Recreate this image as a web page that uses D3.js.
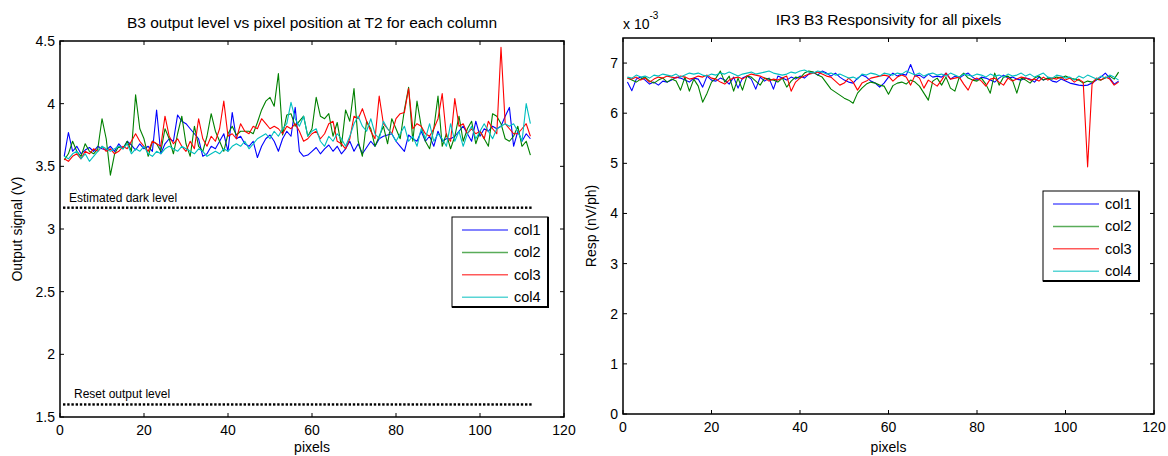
<!DOCTYPE html>
<html lang="en">
<head>
    <meta charset="UTF-8">
    <title>B3 output level / IR3 B3 Responsivity</title>
    <script src="https://d3js.org/d3.v7.min.js"></script>
    <style>
        body { margin: 0; background: #fff; }
        text { font-family: 'Liberation Sans', Arial, sans-serif; fill: #000; }
    </style>
</head>
<body>
<script>

    const width  = 1168;
    const height = 456;

    const seriesNames  = ['col1', 'col2', 'col3', 'col4'];
    const seriesColors = ['#0000ff', '#008000', '#ff0000', '#00bfbf'];

    const xTicks     = [0, 20, 40, 60, 80, 100, 120];
    const leftYTicks = [1.5, 2, 2.5, 3, 3.5, 4, 4.5];
    const rightYTicks = [0, 1, 2, 3, 4, 5, 6, 7];

    const darkLevel  = 3.17;
    const resetLevel = 1.6;

    // output signal (V), pixel 1..112
    const outCol1 = [
        3.58,3.77,3.62,3.66,3.60,3.63,3.65,3.62,3.66,3.64,
        3.63,3.66,3.62,3.68,3.64,3.70,3.67,3.63,3.68,3.64,
        3.66,3.62,3.95,3.60,3.68,3.72,3.70,3.91,3.86,3.84,
        3.80,3.76,3.72,3.58,3.60,3.66,3.64,3.70,3.76,3.62,
        3.93,3.72,3.74,3.68,3.66,3.70,3.57,3.66,3.72,3.75,
        3.70,3.62,3.72,3.78,3.74,3.97,3.62,3.58,3.59,3.62,
        3.65,3.60,3.64,3.67,3.62,3.66,3.60,3.64,3.70,3.62,
        3.68,3.60,3.65,3.70,3.66,3.72,3.74,3.75,3.76,3.70,
        3.66,3.62,3.75,3.72,3.70,3.78,3.70,3.74,3.66,3.78,
        3.70,3.72,3.72,3.74,3.78,3.82,3.76,3.70,3.86,3.74,
        3.80,3.78,3.82,3.80,3.82,3.90,3.97,3.66,3.78,3.70,3.76,3.72
    ];
    const outCol2 = [
        3.55,3.60,3.70,3.62,3.58,3.68,3.62,3.60,3.64,3.88,
        3.72,3.43,3.60,3.66,3.64,3.70,3.62,4.07,3.80,3.72,
        3.58,3.70,3.68,3.62,3.80,3.72,3.60,3.76,3.90,3.68,
        3.58,3.82,3.66,3.62,3.74,3.92,3.78,3.70,3.62,3.76,
        3.82,3.75,3.78,3.78,3.78,3.76,3.85,3.95,4.02,4.05,
        3.98,4.24,3.75,3.91,3.92,3.82,3.86,3.90,3.74,3.80,
        4.05,3.90,3.88,3.92,3.74,3.85,3.66,3.95,3.86,4.12,
        3.70,3.58,3.86,3.80,3.66,3.74,3.82,3.68,3.88,3.80,
        3.72,3.95,4.13,3.70,4.02,3.82,3.70,3.64,3.80,4.06,
        3.66,3.76,3.64,3.74,3.90,3.70,3.80,3.86,3.68,3.78,
        3.72,3.66,3.92,3.90,3.84,3.72,3.70,3.74,3.82,3.66,3.70,3.59
    ];
    const outCol3 = [
        3.56,3.54,3.58,3.60,3.56,3.62,3.60,3.64,3.62,3.66,
        3.62,3.64,3.60,3.62,3.66,3.64,3.70,3.76,3.70,3.66,
        3.62,3.70,3.68,3.66,3.90,3.74,3.68,3.72,3.66,3.62,
        3.70,3.64,3.88,3.72,3.66,3.74,3.70,3.80,4.02,3.74,
        3.76,3.72,3.84,3.78,3.76,3.82,3.80,3.88,3.84,3.80,
        3.82,3.80,3.76,3.82,3.80,3.84,3.78,3.70,3.72,3.76,
        3.78,3.72,3.76,3.84,3.86,3.70,3.68,3.64,3.72,3.90,
        3.88,3.96,3.86,3.78,3.72,4.06,3.84,3.80,3.76,3.88,
        3.92,3.93,4.12,3.80,3.84,3.82,3.76,3.74,3.80,3.88,
        4.08,3.74,3.70,4.04,3.82,3.84,3.76,3.80,3.76,3.78,
        3.72,3.86,3.80,3.76,4.45,3.84,3.80,3.76,3.76,3.80,3.84,3.74
    ];
    const outCol4 = [
        3.58,3.56,3.60,3.62,3.56,3.60,3.54,3.58,3.62,3.66,
        3.64,3.62,3.64,3.66,3.64,3.68,3.60,3.64,3.62,3.66,
        3.60,3.58,3.62,3.60,3.64,3.66,3.64,3.62,3.66,3.64,
        3.62,3.60,3.64,3.62,3.58,3.60,3.62,3.60,3.64,3.62,
        3.66,3.68,3.66,3.70,3.64,3.68,3.72,3.74,3.76,3.72,
        3.78,3.74,3.80,3.84,4.01,3.88,3.82,3.90,3.74,3.78,
        3.80,3.70,3.66,3.74,3.70,3.76,3.72,3.66,3.74,3.84,
        3.90,3.82,3.78,3.88,3.76,3.72,3.86,3.80,3.76,3.70,
        3.76,3.82,3.70,3.74,3.66,3.80,3.72,3.84,3.70,3.76,
        3.72,3.66,3.84,3.70,3.78,3.66,3.76,3.82,3.72,3.78,
        3.84,3.78,3.72,3.80,3.82,3.84,3.82,3.84,3.78,3.70,4.00,3.84
    ];

    // responsivity (x 10^-3 nV/ph), pixel 1..112
    const respCol1 = [
        6.62,6.45,6.68,6.72,6.66,6.58,6.62,6.56,6.64,6.62,
        6.66,6.72,6.70,6.66,6.62,6.70,6.68,6.52,6.74,6.66,
        6.64,6.70,6.66,6.58,6.72,6.50,6.70,6.74,6.68,6.48,
        6.72,6.64,6.70,6.48,6.74,6.70,6.66,6.72,6.68,6.74,
        6.70,6.78,6.82,6.76,6.84,6.80,6.74,6.80,6.72,6.66,
        6.62,6.60,6.70,6.76,6.72,6.64,6.60,6.52,6.60,6.72,
        6.80,6.74,6.78,6.76,6.97,6.74,6.76,6.70,6.78,6.72,
        6.74,6.72,6.80,6.68,6.74,6.70,6.76,6.80,6.72,6.66,
        6.72,6.70,6.66,6.62,6.70,6.76,6.70,6.72,6.68,6.66,
        6.70,6.68,6.62,6.72,6.66,6.70,6.64,6.62,6.68,6.64,
        6.60,6.58,6.56,6.55,6.56,6.60,6.66,6.72,6.80,6.70,6.58,6.64
    ];
    const respCol2 = [
        6.70,6.66,6.62,6.68,6.72,6.64,6.60,6.66,6.70,6.62,
        6.68,6.64,6.46,6.72,6.44,6.68,6.54,6.22,6.40,6.62,
        6.70,6.84,6.62,6.74,6.44,6.70,6.46,6.74,6.72,6.64,
        6.56,6.70,6.68,6.66,6.62,6.70,6.52,6.64,6.72,6.70,
        6.80,6.84,6.82,6.76,6.72,6.60,6.48,6.42,6.36,6.30,
        6.26,6.20,6.40,6.50,6.58,6.62,6.60,6.56,6.54,6.38,
        6.55,6.60,6.62,6.58,6.66,6.62,6.54,6.40,6.26,6.64,
        6.70,6.56,6.72,6.50,6.44,6.72,6.80,6.70,6.66,6.64,
        6.70,6.58,6.40,6.80,6.56,6.72,6.74,6.66,6.40,6.70,
        6.66,6.60,6.70,6.74,6.66,6.70,6.68,6.72,6.70,6.74,
        6.70,6.68,6.66,6.60,6.64,6.62,6.68,6.66,6.70,6.74,6.68,6.82
    ];
    const respCol3 = [
        6.70,6.68,6.72,6.66,6.70,6.62,6.68,6.72,6.70,6.74,
        6.72,6.70,6.74,6.72,6.68,6.70,6.74,6.72,6.76,6.70,
        6.68,6.62,6.58,6.66,6.70,6.72,6.68,6.74,6.78,6.76,
        6.74,6.70,6.64,6.68,6.66,6.70,6.74,6.44,6.62,6.70,
        6.74,6.78,6.80,6.82,6.78,6.74,6.72,6.64,6.56,6.60,
        6.70,6.62,6.46,6.60,6.64,6.70,6.72,6.74,6.76,6.74,
        6.64,6.72,6.76,6.72,6.56,6.76,6.70,6.50,6.66,6.60,
        6.54,6.66,6.80,6.68,6.70,6.72,6.58,6.46,6.66,6.70,
        6.64,6.54,6.68,6.70,6.62,6.56,6.70,6.64,6.68,6.72,
        6.70,6.66,6.68,6.64,6.72,6.66,6.70,6.68,6.72,6.66,
        6.70,6.62,6.68,6.62,4.93,6.58,6.70,6.66,6.72,6.68,6.56,6.62
    ];
    const respCol4 = [
        6.72,6.70,6.76,6.72,6.74,6.70,6.76,6.74,6.78,6.76,
        6.74,6.78,6.72,6.76,6.80,6.78,6.80,6.76,6.74,6.78,
        6.76,6.80,6.78,6.82,6.78,6.74,6.78,6.80,6.82,6.78,
        6.80,6.82,6.84,6.80,6.78,6.76,6.78,6.82,6.80,6.84,
        6.86,6.82,6.80,6.84,6.82,6.78,6.80,6.76,6.78,6.74,
        6.70,6.72,6.68,6.78,6.76,6.80,6.78,6.74,6.80,6.78,
        6.76,6.80,6.78,6.84,6.80,6.76,6.80,6.74,6.78,6.80,
        6.76,6.78,6.74,6.80,6.76,6.72,6.78,6.76,6.74,6.78,
        6.76,6.72,6.78,6.74,6.76,6.72,6.78,6.74,6.76,6.80,
        6.74,6.78,6.72,6.76,6.80,6.72,6.70,6.76,6.74,6.70,
        6.72,6.66,6.74,6.70,6.76,6.72,6.68,6.74,6.70,6.76,6.72,6.66
    ];

    const pixels = d3.range(1, outCol1.length + 1);

    const svg = d3.select("body")
            .append("svg")
            .attr("width", width)
            .attr("height", height);

    function panel(opt) {
        const x = d3.scaleLinear().domain([0, 120]).range([opt.left, opt.right]);
        const y = d3.scaleLinear().domain(opt.yDomain).range([opt.bottom, opt.top]);
        const g = svg.append("g");

        // data lines
        const line = d3.line().x((d, i) => x(pixels[i])).y(d => y(d));
        opt.series.forEach((s, i) => {
            g.append("path")
                .attr("d", line(s))
                .attr("fill", "none")
                .attr("stroke", seriesColors[i])
                .attr("stroke-width", 1.1)
                .attr("stroke-linejoin", "round");
        });

        // ticks, pointing inward on all four sides (box on)
        const tl = 4;
        xTicks.forEach(t => {
            g.append("line").attr("x1", x(t)).attr("x2", x(t))
                .attr("y1", opt.bottom).attr("y2", opt.bottom - tl);
            g.append("line").attr("x1", x(t)).attr("x2", x(t))
                .attr("y1", opt.top).attr("y2", opt.top + tl);
            g.append("text").text(t)
                .attr("x", x(t)).attr("y", opt.bottom + 18)
                .attr("text-anchor", "middle").style("font-size", "14px");
        });
        opt.yTicks.forEach(t => {
            g.append("line").attr("x1", opt.left).attr("x2", opt.left + tl)
                .attr("y1", y(t)).attr("y2", y(t));
            g.append("line").attr("x1", opt.right).attr("x2", opt.right - tl)
                .attr("y1", y(t)).attr("y2", y(t));
            g.append("text").text(t)
                .attr("x", opt.left - 5).attr("y", y(t) + 5)
                .attr("text-anchor", "end").style("font-size", "14px");
        });
        g.selectAll("line").attr("stroke", "#000").attr("stroke-width", 1);

        // axes box
        g.append("rect")
            .attr("x", opt.left).attr("y", opt.top)
            .attr("width", opt.right - opt.left).attr("height", opt.bottom - opt.top)
            .attr("fill", "none").attr("stroke", "#000").attr("stroke-width", 1.5);

        g.append("text").text(opt.title)
            .attr("x", (opt.left + opt.right) / 2).attr("y", opt.titleY)
            .attr("text-anchor", "middle").style("font-size", "15.5px");
        g.append("text").text("pixels")
            .attr("x", (opt.left + opt.right) / 2).attr("y", 452)
            .attr("text-anchor", "middle").style("font-size", "14px");
        g.append("text").text(opt.yLabel)
            .attr("transform", "translate(" + opt.yLabelX + "," + (opt.top + opt.bottom) / 2 + ") rotate(-90)")
            .attr("text-anchor", "middle").style("font-size", "14px");

        // legend
        const lg = g.append("g").attr("transform", "translate(" + opt.legend[0] + "," + opt.legend[1] + ")");
        const lw = 96, lh = 90;
        lg.append("rect").attr("width", lw).attr("height", lh)
            .attr("fill", "#fff").attr("stroke", "#000").attr("stroke-width", 1);
        lg.append("path")
            .attr("d", "M" + lw + ",0 V" + lh + " H0")
            .attr("fill", "none").attr("stroke", "#000").attr("stroke-width", 2);
        seriesNames.forEach((n, i) => {
            const yy = 13 + i * 22.4;
            lg.append("line").attr("x1", 10).attr("x2", 56)
                .attr("y1", yy).attr("y2", yy)
                .attr("stroke", seriesColors[i]).attr("stroke-width", 1.5)
                .attr("stroke-opacity", 0.65);
            lg.append("text").text(n)
                .attr("x", 62).attr("y", yy + 5).style("font-size", "14.5px");
        });
        return { x, y, g };
    }

    const L = panel({
        left: 60, right: 564, top: 41, bottom: 417,
        yDomain: [1.5, 4.5], yTicks: leftYTicks,
        series: [outCol1, outCol2, outCol3, outCol4],
        title: "B3 output level vs pixel position at T2 for each column", titleY: 28,
        yLabel: "Output signal (V)", yLabelX: 22,
        legend: [452, 217]
    });

    // dark / reset reference levels drawn with point markers
    [[darkLevel, "Estimated dark level", 69], [resetLevel, "Reset output level", 74]].forEach(([lvl, label, lx]) => {
        L.g.selectAll(null).data(pixels).enter()
            .append("rect")
            .attr("x", d => L.x(d) - 1.2).attr("y", L.y(lvl) - 1.2)
            .attr("width", 2.4).attr("height", 2.4)
            .attr("fill", "#000");
        L.g.append("text").text(label)
            .attr("x", lx).attr("y", L.y(lvl) - 6)
            .style("font-size", "12px");
    });

    const R = panel({
        left: 623, right: 1154, top: 38, bottom: 414,
        yDomain: [0, 7.5], yTicks: rightYTicks,
        series: [respCol1, respCol2, respCol3, respCol4],
        title: "IR3 B3 Responsivity for all pixels", titleY: 25,
        yLabel: "Resp (nV/ph)", yLabelX: 596,
        legend: [1043, 191]
    });

    const ex = R.g.append("text").attr("x", 623).attr("y", 29).style("font-size", "14px");
    ex.append("tspan").text("x 10");
    ex.append("tspan").text("-3").attr("dy", -10).style("font-size", "10px");

</script>
</body>
</html>
